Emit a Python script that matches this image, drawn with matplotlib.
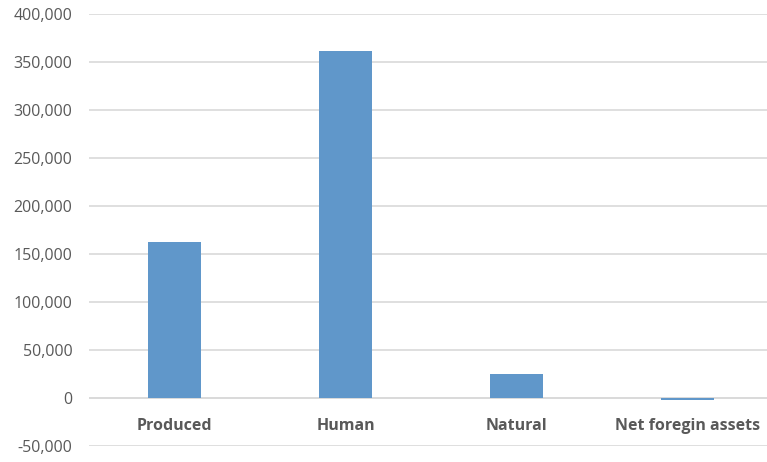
import matplotlib
matplotlib.use("Agg")
import matplotlib.pyplot as plt
from matplotlib.ticker import FuncFormatter

categories = ["Produced", "Human", "Natural", "Net foregin assets"]
values = [162500, 361000, 25500, -2000]

plt.rcParams['font.family'] = ['Open Sans', 'DejaVu Sans']

fig = plt.figure(figsize=(7.67, 4.62), dpi=100)
ax = fig.add_axes([89/767, 1-446/462, 684/767, (446-14)/462])

x = list(range(len(categories)))
ax.bar(x, values, width=0.31, color="#6097CA", zorder=3)
ax.set_xlim(-0.5, len(categories)-0.5)
ax.set_ylim(-50000, 400000)
ax.set_yticks(range(-50000, 400001, 50000))
ax.yaxis.set_major_formatter(FuncFormatter(lambda v, p: f"{int(v):,}"))
ax.grid(axis='y', color="#D9D9D9", linewidth=1.2, zorder=0)
ax.axhline(0, color="#D9D9D9", linewidth=1.2, zorder=1)
for s in ax.spines.values():
    s.set_visible(False)
ax.tick_params(axis='both', length=0, colors="#595959", labelsize=11.5)
ax.tick_params(axis='y', pad=12)
ax.set_xticks(x)
ax.set_xticklabels([])
for i, c in enumerate(categories):
    ax.text(i, -29000, c, ha='center', va='center', fontsize=11.5,
            fontweight='bold', color="#595959")

fig.savefig("out.png", dpi=100)
